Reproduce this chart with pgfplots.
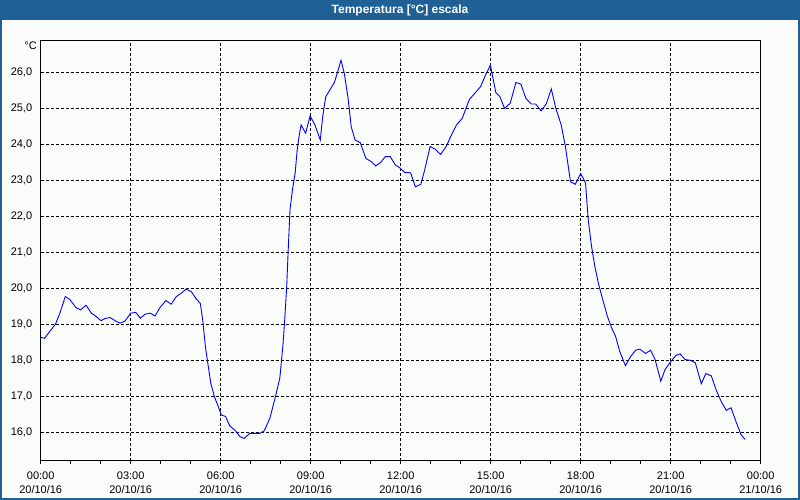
\documentclass[border=0pt]{standalone}
\usepackage{fontspec}
\setmainfont{Liberation Sans}
\usepackage{pgfplots}
\pgfplotsset{compat=1.18}

\definecolor{barblue}{RGB}{31,96,150}
\definecolor{bgpanel}{RGB}{250,252,250}
\definecolor{linecol}{RGB}{0,0,255}

\begin{document}
\begin{tikzpicture}[x=1pt,y=1pt]
\useasboundingbox (0,0) rectangle (800,500);
\fill[bgpanel] (0,0) rectangle (800,500);
\fill[barblue] (0,480) rectangle (800,500);
\node[text=white,font=\fontsize{12}{14}\selectfont\bfseries] at (400,490) {Temperatura [°C] escala};

\begin{axis}[
  at={(40.7pt,39.3pt)}, anchor=south west,
  scale only axis,
  width=720pt, height=420pt,
  xmin=0, xmax=24,
  ymin=15.21, ymax=26.88,
  xtick={0,3,...,24},
  minor x tick num=2,
  xticklabels={00:00\\20/10/16,03:00\\20/10/16,06:00\\20/10/16,09:00\\20/10/16,12:00\\20/10/16,15:00\\20/10/16,18:00\\20/10/16,21:00\\20/10/16,00:00\\21/10/16},
  ytick={16,17,...,26},
  xtick pos=left,
  ytick pos=left,
  tick align=outside,
  x tick style={black, line width=0.8pt},
  major tick length=3pt,
  minor tick length=3pt,
  y tick style={draw=none},
  grid=major,
  major grid style={black, line width=0.8pt, dash pattern=on 3pt off 2pt},
  axis line style={black, line width=1pt},
  ticklabel style={font=\fontsize{11}{14}\selectfont},
  xticklabel style={align=center, yshift=-5pt},
  yticklabel style={xshift=-2pt},
  /pgf/number format/.cd, fixed, fixed zerofill, precision=1, use comma, assume math mode=true,
]
\addplot[linecol, line width=0.9pt] coordinates {
(0.00,18.64) (0.13,18.61) (0.30,18.80) (0.49,19.00) (0.64,19.31) (0.82,19.77)
(0.97,19.69) (1.17,19.47) (1.33,19.40) (1.51,19.53) (1.69,19.31) (1.86,19.21)
(2.01,19.10) (2.14,19.16) (2.31,19.19) (2.48,19.10) (2.64,19.03) (2.81,19.09)
(3.00,19.31) (3.17,19.33) (3.32,19.17) (3.48,19.28) (3.65,19.31) (3.81,19.23)
(3.98,19.47) (4.17,19.66) (4.35,19.56) (4.52,19.77) (4.68,19.86) (4.85,19.98)
(5.02,19.91) (5.17,19.72) (5.32,19.58) (5.40,19.12) (5.49,18.38) (5.57,17.92)
(5.67,17.36) (5.79,16.99) (5.92,16.71) (6.02,16.48) (6.16,16.44) (6.30,16.18)
(6.47,16.06) (6.64,15.88) (6.78,15.83) (6.97,15.97) (7.14,15.97) (7.30,15.97)
(7.45,16.04) (7.64,16.39) (7.81,16.94) (7.97,17.50) (8.08,18.47) (8.14,19.21)
(8.20,20.05) (8.25,21.06) (8.31,22.18) (8.39,22.73) (8.48,23.19) (8.55,23.84)
(8.61,24.21) (8.68,24.54) (8.83,24.31) (8.98,24.79) (9.14,24.54) (9.32,24.12)
(9.40,24.77) (9.50,25.32) (9.65,25.53) (9.79,25.72) (9.90,26.02) (10.01,26.34)
(10.12,25.97) (10.24,25.32) (10.35,24.49) (10.48,24.12) (10.65,24.05) (10.84,23.61)
(11.02,23.52) (11.17,23.40) (11.32,23.49) (11.49,23.66) (11.65,23.66) (11.82,23.43)
(11.98,23.34) (12.13,23.22) (12.33,23.21) (12.49,22.82) (12.67,22.89) (12.80,23.29)
(12.98,23.94) (13.14,23.87) (13.33,23.72) (13.53,23.96) (13.69,24.26) (13.86,24.54)
(14.05,24.72) (14.29,25.25) (14.47,25.42) (14.66,25.60) (14.83,25.93) (14.99,26.20)
(15.17,25.44) (15.31,25.32) (15.46,25.00) (15.65,25.14) (15.84,25.72) (16.01,25.67)
(16.17,25.28) (16.35,25.12) (16.50,25.12) (16.68,24.93) (16.85,25.12) (17.02,25.54)
(17.17,25.00) (17.35,24.54) (17.49,23.94) (17.66,22.96) (17.82,22.89) (18.00,23.19)
(18.16,22.93) (18.25,21.91) (18.36,21.17) (18.47,20.61) (18.60,20.10) (18.75,19.64)
(18.89,19.22) (19.03,18.90) (19.16,18.67) (19.30,18.25) (19.49,17.85) (19.67,18.11)
(19.83,18.28) (19.97,18.31) (20.16,18.19) (20.33,18.28) (20.48,18.02) (20.67,17.42)
(20.81,17.74) (20.98,17.94) (21.17,18.13) (21.31,18.18) (21.48,18.02) (21.65,18.00)
(21.82,17.93) (22.02,17.35) (22.17,17.63) (22.35,17.57) (22.51,17.19) (22.68,16.86)
(22.85,16.61) (23.01,16.68) (23.17,16.31) (23.34,15.94) (23.48,15.80)
};
\end{axis}
\node[anchor=north east, font=\fontsize{11}{13}\selectfont, inner sep=0pt] at (37,458) {°C};

\draw[barblue, line width=2pt] (1,0) -- (1,480) (799,0) -- (799,480) (0,1) -- (800,1);
\end{tikzpicture}
\end{document}
